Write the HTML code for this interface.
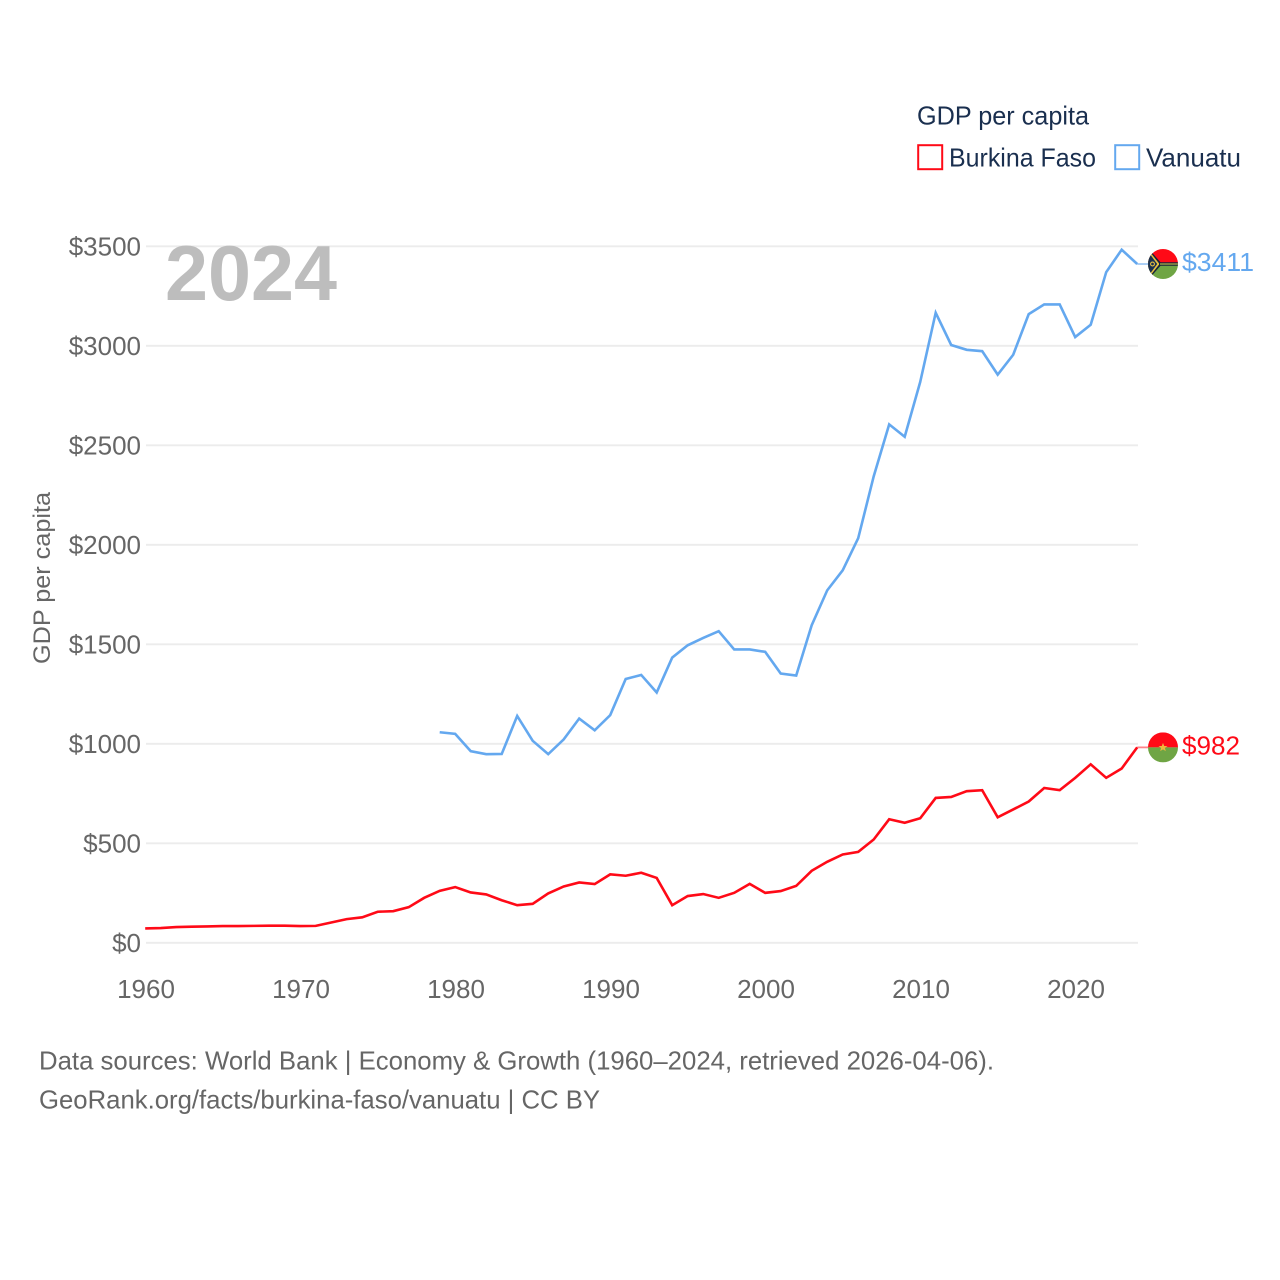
<!DOCTYPE html>
<html lang="en">
<head>
<meta charset="utf-8">
<title>GDP per capita: Burkina Faso and Vanuatu</title>
<style>
  html, body { margin: 0; padding: 0; background: #fff; }
  svg { display: block; font-family: "Liberation Sans", sans-serif; }
</style>
</head>
<body>
<svg id="chart" xmlns="http://www.w3.org/2000/svg" width="1280" height="1280" viewBox="0 0 1280 1280">
  <rect width="1280" height="1280" fill="#ffffff"/>
  <g id="grid"></g>
  <g id="yticks"></g>
  <g id="xticks"></g>
  <text x="165" y="300" font-size="78" font-weight="700" fill="#bdbdbd" textLength="172" lengthAdjust="spacingAndGlyphs">2024</text>
  <text transform="translate(50,664) rotate(-90)" font-size="24" fill="#666666" textLength="172" lengthAdjust="spacingAndGlyphs">GDP per capita</text>
  <g id="series"></g>
  <g id="flags"></g>
  <g>
    <text x="917" y="124.5" font-size="26" fill="#1a2f4f" textLength="172" lengthAdjust="spacingAndGlyphs">GDP per capita</text>
    <g>
      <rect x="918.2" y="145.2" width="24" height="24" fill="#ffffff" stroke="#ff0a17" stroke-width="2"/>
      <text x="949" y="166.5" font-size="26" fill="#1a2f4f" textLength="147" lengthAdjust="spacingAndGlyphs">Burkina Faso</text>
    </g>
    <g>
      <rect x="1115.2" y="145.2" width="24" height="24" fill="#ffffff" stroke="#64a8ef" stroke-width="2"/>
      <text x="1146" y="166.5" font-size="26" fill="#1a2f4f" textLength="95" lengthAdjust="spacingAndGlyphs">Vanuatu</text>
    </g>
  </g>
  <g font-size="26" fill="#666666">
    <text x="39" y="1069.5" textLength="955" lengthAdjust="spacingAndGlyphs">Data sources: World Bank | Economy &amp; Growth (1960–2024, retrieved 2026-04-06).</text>
    <text x="39" y="1108.5" textLength="561" lengthAdjust="spacingAndGlyphs">GeoRank.org/facts/burkina-faso/vanuatu | CC BY</text>
  </g>
</svg>
<script>
const xTickLabels = [1960, 1970, 1980, 1990, 2000, 2010, 2020];
const yTickLabels = [0, 500, 1000, 1500, 2000, 2500, 3000, 3500];

const burkinaYears = [1960,1961,1962,1963,1964,1965,1966,1967,1968,1969,1970,1971,1972,1973,1974,1975,1976,1977,1978,1979,1980,1981,1982,1983,1984,1985,1986,1987,1988,1989,1990,1991,1992,1993,1994,1995,1996,1997,1998,1999,2000,2001,2002,2003,2004,2005,2006,2007,2008,2009,2010,2011,2012,2013,2014,2015,2016,2017,2018,2019,2020,2021,2022,2023,2024];
const burkinaValues = [72,74,79,81,82,84,84,85,86,86,84,85,102,119,128,156,159,179,226,261,280,253,243,214,189,196,248,283,303,295,344,337,352,326,189,235,245,226,251,296,251,260,286,362,407,444,457,519,621,603,626,728,733,762,767,631,670,710,778,767,829,897,829,876,982];

const vanuatuYears = [1979,1980,1981,1982,1983,1984,1985,1986,1987,1988,1989,1990,1991,1992,1993,1994,1995,1996,1997,1998,1999,2000,2001,2002,2003,2004,2005,2006,2007,2008,2009,2010,2011,2012,2013,2014,2015,2016,2017,2018,2019,2020,2021,2022,2023,2024];
const vanuatuValues = [1058,1050,963,948,949,1140,1015,948,1022,1127,1068,1144,1326,1346,1258,1433,1495,1532,1566,1474,1474,1462,1353,1343,1596,1771,1872,2033,2344,2605,2543,2818,3166,3004,2980,2973,2855,2955,3159,3208,3208,3044,3106,3370,3483,3411];

const NS = 'http://www.w3.org/2000/svg';
const RED = '#ff0a17';
const BLUE = '#64a8ef';
function xScale(year) { return 145.2 + (year - 1960) * 15.5; }
function yScale(value) { return 942.8 - value * 0.199; }
function make(tag, attrs, parent) {
  const el = document.createElementNS(NS, tag);
  for (const k in attrs) el.setAttribute(k, attrs[k]);
  parent.appendChild(el);
  return el;
}

const grid = document.getElementById('grid');
const yticks = document.getElementById('yticks');
const xticks = document.getElementById('xticks');
const seriesGroup = document.getElementById('series');
const flags = document.getElementById('flags');
const svgRoot = document.getElementById('chart');

yTickLabels.forEach(function (v) {
  const line = make('line', { x1: 146, x2: 1138, y1: yScale(v), y2: yScale(v), stroke: '#ececec', 'stroke-width': 1.8 }, grid);
  
  
  const label = make('text', { x: 141, y: yScale(v) + 9, 'text-anchor': 'end', 'font-size': 26, fill: '#666666' }, yticks);
  label.textContent = '$' + v;
  
  
});

xTickLabels.forEach(function (year) {
  const label = make('text', { x: xScale(year) + 0.8, y: 998, 'text-anchor': 'middle', 'font-size': 26, fill: '#666666' }, xticks);
  label.textContent = String(year);
  
  
});

function linePoints(years, values) {
  return years.map(function (y, i) { return xScale(y).toFixed(2) + ',' + yScale(values[i]).toFixed(2); }).join(' ');
}

const burkinaLine = make('polyline', { points: linePoints(burkinaYears, burkinaValues), fill: 'none', stroke: RED, 'stroke-width': 2.6, 'stroke-linejoin': 'miter' }, seriesGroup);



const vanuatuLine = make('polyline', { points: linePoints(vanuatuYears, vanuatuValues), fill: 'none', stroke: BLUE, 'stroke-width': 2.6, 'stroke-linejoin': 'miter' }, seriesGroup);



const burkinaLast = burkinaValues[burkinaValues.length - 1];
const vanuatuLast = vanuatuValues[vanuatuValues.length - 1];
const lastX = xScale(2024);

const burkinaConnector = make('line', { x1: lastX, x2: 1148, y1: yScale(burkinaLast), y2: yScale(burkinaLast), stroke: RED, 'stroke-width': 1.8, opacity: 0.5 }, seriesGroup);



const vanuatuConnector = make('line', { x1: lastX, x2: 1148, y1: yScale(vanuatuLast), y2: yScale(vanuatuLast), stroke: BLUE, 'stroke-width': 1.8, opacity: 0.6 }, seriesGroup);



const burkinaValueLabel = make('text', { x: 1182, y: yScale(burkinaLast) + 7, 'font-size': 26, fill: RED, textLength: 58, lengthAdjust: 'spacingAndGlyphs' }, svgRoot);
burkinaValueLabel.textContent = '$' + burkinaLast;



const vanuatuValueLabel = make('text', { x: 1182, y: yScale(vanuatuLast) + 7, 'font-size': 26, fill: BLUE, textLength: 72, lengthAdjust: 'spacingAndGlyphs' }, svgRoot);
vanuatuValueLabel.textContent = '$' + vanuatuLast;



const defs = make('defs', {}, svgRoot);
const clip = make('clipPath', { id: 'flag-clip' }, defs);
make('circle', { cx: 0, cy: 0, r: 15 }, clip);

const burkinaFlag = make('g', { transform: 'translate(1163,' + yScale(burkinaLast) + ')', 'clip-path': 'url(#flag-clip)' }, flags);


make('rect', { x: -15, y: -15, width: 30, height: 15, fill: '#ff0a17' }, burkinaFlag);
make('rect', { x: -15, y: 0, width: 30, height: 15, fill: '#6fa544' }, burkinaFlag);
make('polygon', { points: '0,-4.5 1.2,-1.4 4.5,-1.4 1.9,0.6 2.8,3.8 0,2 -2.8,3.8 -1.9,0.6 -4.5,-1.4 -1.2,-1.4', fill: '#f0b83c' }, burkinaFlag);

const vanuatuFlag = make('g', { transform: 'translate(1163,' + yScale(vanuatuLast) + ')', 'clip-path': 'url(#flag-clip)' }, flags);


make('rect', { x: -15, y: -15, width: 30, height: 15, fill: '#ff0a17' }, vanuatuFlag);
make('rect', { x: -15, y: 0, width: 30, height: 15, fill: '#6fa544' }, vanuatuFlag);
make('polygon', { points: '-15,-16 -2.5,-1.8 15,-1.8 15,1.8 -2.5,1.8 -15,16', fill: '#16223a' }, vanuatuFlag);
make('rect', { x: -3, y: -0.6, width: 18, height: 1.2, fill: '#b5b84a' }, vanuatuFlag);
make('polygon', { points: '-15,-14.5 -4,-0.6 -4,0.6 -15,14.5', fill: '#e8c040' }, vanuatuFlag);
make('polygon', { points: '-15,-12.5 -5.8,0 -15,12.5', fill: '#1a2f4f' }, vanuatuFlag);
make('circle', { cx: -10.5, cy: 0, r: 1.9, fill: 'none', stroke: '#e8c040', 'stroke-width': 1.1 }, vanuatuFlag);
</script>
</body>
</html>
